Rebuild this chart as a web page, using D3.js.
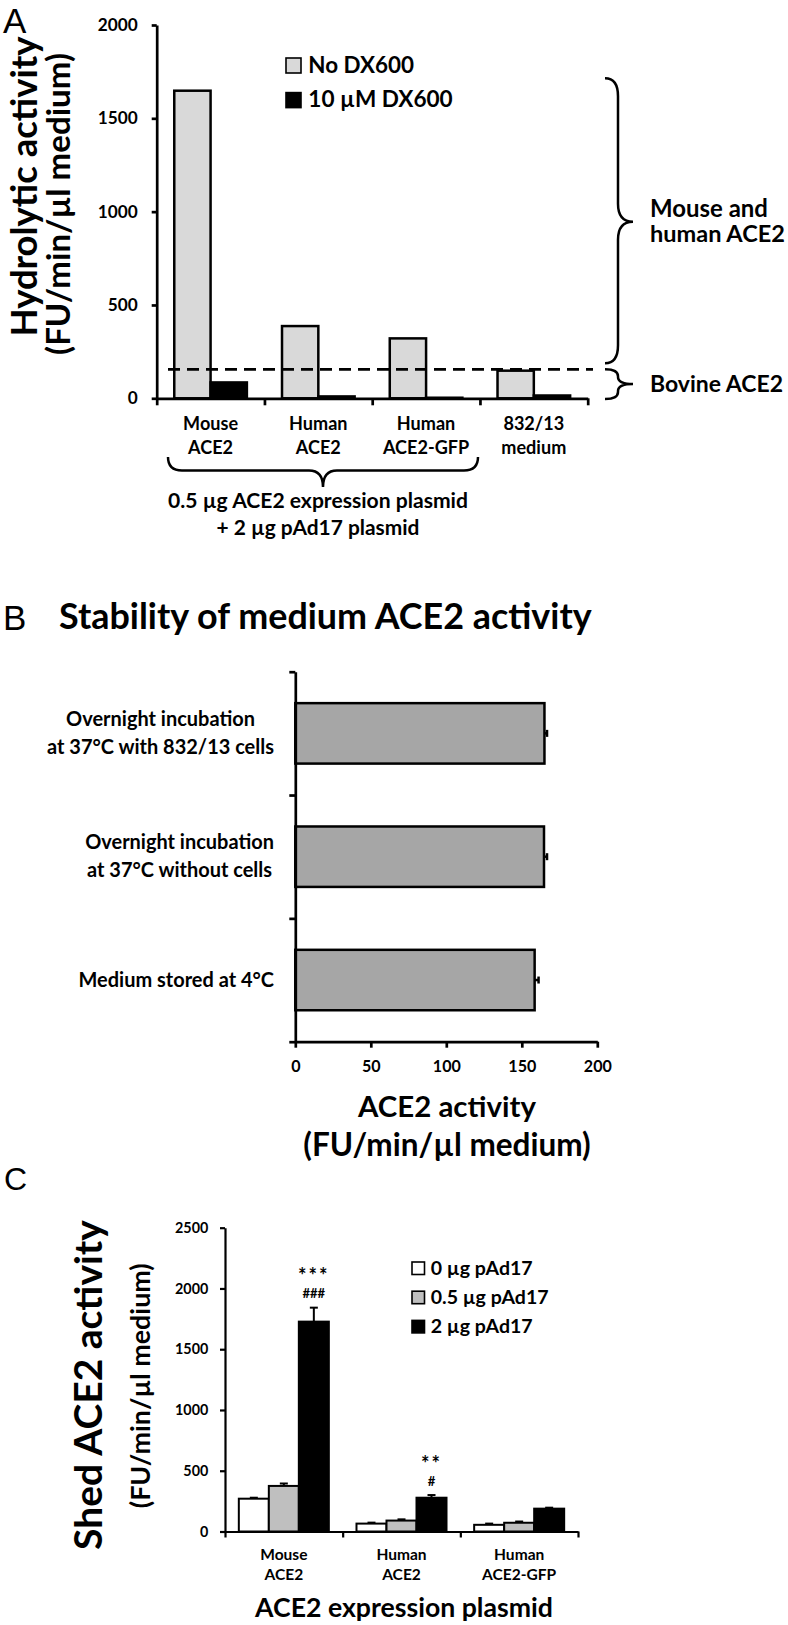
<!DOCTYPE html>
<html>
<head>
<meta charset="utf-8">
<script src="https://cdn.jsdelivr.net/npm/d3@7"></script>
<style>
  body { margin: 0; background: #fff; }
  text { font-family: Lato, "Open Sans", sans-serif; font-weight: 700; fill: #000; }
  text.letter { font-family: "Liberation Sans", Arial, sans-serif; font-weight: 400; }
</style>
</head>
<body>
<script>
// ---- panel A: hydrolytic activity with / without DX600
var catsA = [["Mouse", "ACE2"], ["Human", "ACE2"], ["Human", "ACE2-GFP"], ["832/13", "medium"]];
var noDX600 = [1648, 387, 321, 148];
var withDX600 = [85, 10, 3, 15];
var ticksA = [0, 500, 1000, 1500, 2000];
var bovineLevel = 155;

// ---- panel B: stability of medium ACE2 activity
var catsB = [["Overnight incubation", "at 37°C with 832/13 cells"],
             ["Overnight incubation", "at 37°C without cells"],
             ["Medium stored at 4°C"]];
var actB = [165, 164.7, 158.5];
var errB = [1.7, 2, 2.6];
var ticksB = [0, 50, 100, 150, 200];

// ---- panel C: shed ACE2 activity
var catsC = [["Mouse", "ACE2"], ["Human", "ACE2"], ["Human", "ACE2-GFP"]];
var legendC = ["0 µg pAd17", "0.5 µg pAd17", "2 µg pAd17"];
var pAd0 = [270, 65, 55];
var pAd05 = [375, 90, 72];
var pAd2 = [1727, 278, 188];
var err0 = [8, 8, 10];
var err05 = [20, 10, 10];
var err2 = [115, 22, 8];
var starsC = ["***", "**", ""];
var hashC = ["###", "#", ""];
var ticksC = [0, 500, 1000, 1500, 2000, 2500];

var svg = d3.select("body").append("svg")
    .attr("width", 788)
    .attr("height", 1625);

// font size that makes string s about w px wide (original used Calibri)
function sizeFor(s, w) {
  var t = svg.append("text").attr("font-size", 20).text(s);
  var fs = 20 * w / t.node().getComputedTextLength();
  t.remove();
  return fs;
}

function label(g, s, x, y, w, anchor) {
  return g.append("text")
      .attr("x", x).attr("y", y)
      .attr("text-anchor", anchor || "start")
      .attr("font-size", sizeFor(s, w))
      .text(s);
}

function vlabel(g, s, x, y, w) {
  return g.append("text")
      .attr("transform", "translate(" + x + "," + y + ") rotate(-90)")
      .attr("text-anchor", "middle")
      .attr("font-size", sizeFor(s, w))
      .text(s);
}

function styleAxis(ax, fs) {
  ax.attr("font-family", null).attr("font-size", null);
  ax.select(".domain").attr("stroke-width", 2.7);
  ax.selectAll(".tick line").attr("stroke-width", 2.7);
  ax.selectAll(".tick text").attr("font-size", fs);
}

// vertical curly brace, tip pointing right
function braceV(x0, xs, xt, y0, yt, y1, r) {
  return "M" + x0 + "," + y0 + " Q" + xs + "," + y0 + " " + xs + "," + (y0 + r) +
    " L" + xs + "," + (yt - r) + " Q" + xs + "," + yt + " " + xt + "," + yt +
    " Q" + xs + "," + yt + " " + xs + "," + (yt + r) +
    " L" + xs + "," + (y1 - r) + " Q" + xs + "," + y1 + " " + x0 + "," + y1;
}
// horizontal curly brace, tip pointing down
function braceH(x0, xt, x1, y0, ys, yt, r) {
  return "M" + x0 + "," + y0 + " Q" + x0 + "," + ys + " " + (x0 + r) + "," + ys +
    " L" + (xt - r) + "," + ys + " Q" + xt + "," + ys + " " + xt + "," + yt +
    " Q" + xt + "," + ys + " " + (xt + r) + "," + ys +
    " L" + (x1 - r) + "," + ys + " Q" + x1 + "," + ys + " " + x1 + "," + y0;
}

var plain = d3.format("d");

/* ===================== A ===================== */
var gA = svg.append("g");
gA.append("text").attr("class", "letter").attr("x", 3).attr("y", 33).attr("font-size", 35).text("A");

var yA = d3.scaleLinear().domain([0, 2000]).range([398.3, 25]);
var xA = d3.scaleBand().domain(d3.range(catsA.length)).range([156.7, 587.7]);
var barA = xA.bandwidth() * 0.337,
    padA = (xA.bandwidth() - 2 * barA) / 2;

gA.append("g").selectAll("rect")
    .data(noDX600)
  .enter().append("rect")
    .attr("x", function(d, i) { return xA(i) + padA; })
    .attr("y", function(d) { return yA(d); })
    .attr("width", barA)
    .attr("height", function(d) { return yA(0) - yA(d); })
    .attr("fill", "#d9d9d9")
    .attr("stroke", "#000")
    .attr("stroke-width", 2.5);

gA.append("g").selectAll("rect")
    .data(withDX600)
  .enter().append("rect")
    .attr("x", function(d, i) { return xA(i) + padA + barA; })
    .attr("y", function(d) { return yA(d); })
    .attr("width", barA)
    .attr("height", function(d) { return yA(0) - yA(d); })
    .attr("fill", "#000")
    .attr("stroke", "#000")
    .attr("stroke-width", 2.5);

var axA = gA.append("g")
    .attr("transform", "translate(156.7,0)")
    .call(d3.axisLeft(yA).tickValues(ticksA).tickFormat(plain).tickSize(5).tickSizeOuter(0).tickPadding(14));
styleAxis(axA, sizeFor("2000", 40));

var bandsA = d3.scaleLinear().domain([0, catsA.length]).range(xA.range());
var axAx = gA.append("g")
    .attr("transform", "translate(0," + yA(0) + ")")
    .call(d3.axisBottom(bandsA).ticks(catsA.length).tickSize(7).tickSizeOuter(0).tickFormat(""));
styleAxis(axAx, 10);

// bovine ACE2 level
gA.append("line")
    .attr("x1", 168).attr("x2", 593)
    .attr("y1", yA(bovineLevel)).attr("y2", yA(bovineLevel))
    .attr("stroke", "#000")
    .attr("stroke-width", 2.7)
    .attr("stroke-dasharray", "12,7");

var catFsA = sizeFor("Mouse", 55);
catsA.forEach(function(lines, i) {
  lines.forEach(function(s, j) {
    gA.append("text")
        .attr("x", xA(i) + xA.bandwidth() / 2)
        .attr("y", 430 + j * 24)
        .attr("text-anchor", "middle")
        .attr("font-size", catFsA)
        .text(s);
  });
});

vlabel(gA, "Hydrolytic activity", 37, 186.5, 300);
vlabel(gA, "(FU/min/µl medium)", 70, 204, 302);

// legend A
var legA = [["No DX600", "#d9d9d9", 105.7], ["10 µM DX600", "#000", 144.4]];
legA.forEach(function(d, i) {
  gA.append("rect")
      .attr("x", 286).attr("y", 58 + i * 34.6)
      .attr("width", 15).attr("height", 15)
      .attr("fill", d[1]).attr("stroke", "#000").attr("stroke-width", 1.6);
  label(gA, d[0], 308.3, 72.7 + i * 34.6, d[2]);
});

// braces
gA.append("path")
    .attr("d", braceV(605, 618, 633, 78.3, 221.7, 363.3, 18))
    .attr("fill", "none").attr("stroke", "#000").attr("stroke-width", 2.5);
gA.append("path")
    .attr("d", braceV(605, 618, 633, 369.3, 384, 399, 7))
    .attr("fill", "none").attr("stroke", "#000").attr("stroke-width", 2.5);
label(gA, "Mouse and", 650, 216.7, 118);
label(gA, "human ACE2", 650, 241.7, 135);
label(gA, "Bovine ACE2", 650, 391.7, 133);

gA.append("path")
    .attr("d", braceH(168, 323, 478, 457, 470.5, 487, 14))
    .attr("fill", "none").attr("stroke", "#000").attr("stroke-width", 2.5);
label(gA, "0.5 µg ACE2 expression plasmid", 318, 508, 300, "middle");
label(gA, "+ 2 µg pAd17 plasmid", 318, 535, 203, "middle");

/* ===================== B ===================== */
var gB = svg.append("g");
gB.append("text").attr("class", "letter").attr("x", 3).attr("y", 630).attr("font-size", 35).text("B");
label(gB, "Stability of medium ACE2 activity", 59, 629.3, 533);

var xB = d3.scaleLinear().domain([0, 200]).range([295.3, 597.3]);
var yB = d3.scaleBand().domain(d3.range(catsB.length)).range([671.7, 1041.7]);
var hB = yB.bandwidth() * 0.49;

gB.append("g").selectAll("rect")
    .data(actB)
  .enter().append("rect")
    .attr("x", xB(0))
    .attr("y", function(d, i) { return yB(i) + (yB.bandwidth() - hB) / 2; })
    .attr("width", function(d) { return xB(d) - xB(0); })
    .attr("height", hB)
    .attr("fill", "#a6a6a6")
    .attr("stroke", "#000")
    .attr("stroke-width", 2.5);

// error bars
actB.forEach(function(d, i) {
  var cy = yB(i) + yB.bandwidth() / 2;
  gB.append("line")
      .attr("x1", xB(d)).attr("x2", xB(d + errB[i]))
      .attr("y1", cy).attr("y2", cy)
      .attr("stroke", "#000").attr("stroke-width", 2.5);
  gB.append("line")
      .attr("x1", xB(d + errB[i])).attr("x2", xB(d + errB[i]))
      .attr("y1", cy - 3.5).attr("y2", cy + 3.5)
      .attr("stroke", "#000").attr("stroke-width", 2.5);
});

var bandsB = d3.scaleLinear().domain([0, catsB.length]).range(yB.range());
var axBy = gB.append("g")
    .attr("transform", "translate(" + xB(0) + ",0)")
    .call(d3.axisLeft(bandsB).ticks(catsB.length).tickSize(6).tickSizeOuter(0).tickFormat(""));
styleAxis(axBy, 10);

var axBx = gB.append("g")
    .attr("transform", "translate(0," + yB.range()[1] + ")")
    .call(d3.axisBottom(xB).tickValues(ticksB).tickFormat(plain).tickSize(6).tickSizeOuter(0).tickPadding(13));
styleAxis(axBx, sizeFor("200", 28));

var catFsB = sizeFor("at 37°C with 832/13 cells", 227);
catsB.forEach(function(lines, i) {
  var cy = yB(i) + yB.bandwidth() / 2;
  var texts = lines.map(function(s, j) {
    return gB.append("text")
        .attr("y", cy + 6.5 - (lines.length - 1) * 13.75 + j * 27.5)
        .attr("text-anchor", "middle")
        .attr("font-size", catFsB)
        .text(s);
  });
  var w = d3.max(texts, function(t) { return t.node().getComputedTextLength(); });
  texts.forEach(function(t) { t.attr("x", 274 - w / 2); });
});

label(gB, "ACE2 activity", 447, 1116.7, 178, "middle");
label(gB, "(FU/min/µl medium)", 447, 1156, 287.7, "middle");

/* ===================== C ===================== */
var gC = svg.append("g");
gC.append("text").attr("class", "letter").attr("x", 4).attr("y", 1190).attr("font-size", 32).text("C");

var yC = d3.scaleLinear().domain([0, 2500]).range([1531.5, 1227.7]);
var xC = d3.scaleBand().domain(d3.range(catsC.length)).range([225, 578]);
var barC = xC.bandwidth() * 0.255,
    padC = (xC.bandwidth() - 3 * barC) / 2;

var seriesC = [pAd0, pAd05, pAd2],
    errC = [err0, err05, err2],
    fillC = ["#fff", "#bfbfbf", "#000"];

seriesC.forEach(function(vals, k) {
  // error bars (plus side only)
  vals.forEach(function(d, i) {
    var cx = xC(i) + padC + barC * (k + 0.5);
    gC.append("line")
        .attr("x1", cx).attr("x2", cx)
        .attr("y1", yC(d)).attr("y2", yC(d + errC[k][i]))
        .attr("stroke", "#000").attr("stroke-width", 2);
    gC.append("line")
        .attr("x1", cx - 4).attr("x2", cx + 4)
        .attr("y1", yC(d + errC[k][i])).attr("y2", yC(d + errC[k][i]))
        .attr("stroke", "#000").attr("stroke-width", 2);
  });
  gC.append("g").selectAll("rect")
      .data(vals)
    .enter().append("rect")
      .attr("x", function(d, i) { return xC(i) + padC + barC * k; })
      .attr("y", function(d) { return yC(d); })
      .attr("width", barC)
      .attr("height", function(d) { return yC(0) - yC(d); })
      .attr("fill", fillC[k])
      .attr("stroke", "#000")
      .attr("stroke-width", 2);
});

// significance marks over the 2 µg bars
pAd2.forEach(function(d, i) {
  var cx = xC(i) + padC + barC * 2.5;
  var top = yC(d + err2[i]);
  gC.append("text")
      .attr("x", cx).attr("y", top - 9.5)
      .attr("text-anchor", "middle")
      .attr("font-size", 13)
      .attr("font-weight", 400)
      .text(hashC[i]);
  gC.append("text")
      .attr("x", cx).attr("y", top - 24.5)
      .attr("text-anchor", "middle")
      .attr("font-size", 20)
      .attr("letter-spacing", 2)
      .attr("font-weight", 400)
      .text(starsC[i]);
});

var axCy = gC.append("g")
    .attr("transform", "translate(225,0)")
    .call(d3.axisLeft(yC).tickValues(ticksC).tickFormat(plain).tickSize(5).tickSizeOuter(0).tickPadding(11.7));
styleAxis(axCy, sizeFor("2500", 33.3));
axCy.select(".domain").attr("stroke-width", 2.2);
axCy.selectAll(".tick line").attr("stroke-width", 2.2);

var bandsC = d3.scaleLinear().domain([0, catsC.length]).range(xC.range());
var axCx = gC.append("g")
    .attr("transform", "translate(0," + yC(0) + ")")
    .call(d3.axisBottom(bandsC).ticks(catsC.length).tickSize(6).tickSizeOuter(0).tickFormat(""));
styleAxis(axCx, 10);
axCx.select(".domain").attr("stroke-width", 2.2);
axCx.selectAll(".tick line").attr("stroke-width", 2.2);

var catFsC = sizeFor("Mouse", 47.3);
catsC.forEach(function(lines, i) {
  lines.forEach(function(s, j) {
    gC.append("text")
        .attr("x", xC(i) + xC.bandwidth() / 2)
        .attr("y", 1560 + j * 20)
        .attr("text-anchor", "middle")
        .attr("font-size", catFsC)
        .text(s);
  });
});

label(gC, "ACE2 expression plasmid", 404, 1616.7, 298, "middle");
vlabel(gC, "Shed ACE2 activity", 102, 1385, 330);
vlabel(gC, "(FU/min/µl medium)", 150, 1385.8, 245);

// legend C
var legFsC = sizeFor("0 µg pAd17", 102);
legendC.forEach(function(s, i) {
  gC.append("rect")
      .attr("x", 412).attr("y", 1262 + i * 29.2)
      .attr("width", 12.5).attr("height", 12.5)
      .attr("fill", fillC[i]).attr("stroke", "#000").attr("stroke-width", 1.6);
  gC.append("text")
      .attr("x", 430.7).attr("y", 1275 + i * 29.2)
      .attr("font-size", legFsC)
      .text(s);
});
</script>
</body>
</html>
